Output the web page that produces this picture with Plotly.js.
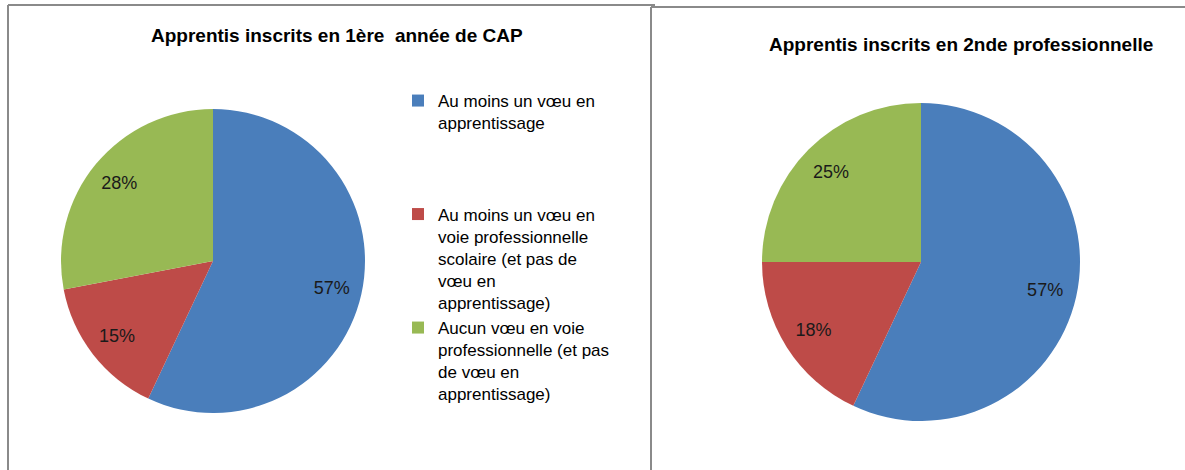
<!DOCTYPE html>
<html>
<head>
<meta charset="utf-8">
<script src="https://cdn.plot.ly/plotly-3.0.1.min.js"></script>
<style>html,body{margin:0;padding:0;background:#fff;}#chart{width:1185px;height:470px;}</style>
</head>
<body>
<div id="chart"></div>
<script>
// ---- data ----
var categories = [
  "Au moins un vœu en<br>apprentissage",
  "Au moins un vœu en<br>voie professionnelle<br>scolaire (et pas de<br>vœu en<br>apprentissage)",
  "Aucun vœu en voie<br>professionnelle (et pas<br>de vœu en<br>apprentissage)"
];
var valuesCAP = [57, 15, 28];
var values2nde = [57, 18, 25];
var titles = ["Apprentis inscrits en 1ère  année de CAP", "Apprentis inscrits en 2nde professionnelle"];
var colors = ["#4A7EBB", "#BE4B48", "#98B954"];

// legend spacing padding (blank lines appended, per item)
var pad = [3, 0, 0];
var labels = categories.map(function (c, i) {
  var s = c;
  for (var k = 0; k < pad[i]; k++) s += "<br> ";
  return s;
});

var W = 1185, H = 470;
function px(x) { return x / W; }
function py(y) { return 1 - y / H; }

var font = "Liberation Sans, Arial, sans-serif";

var dom1 = { x: [px(60), px(366)], y: [py(413), py(109)] };
var dom2 = { x: [px(762), px(1080)], y: [py(421), py(103)] };

function pieTrace(vals, dom, legend) {
  return {
    type: "pie", labels: labels, values: vals, domain: dom,
    sort: false, direction: "clockwise", rotation: 0,
    marker: { colors: colors, line: { width: 0 } },
    textinfo: "none", hoverinfo: "label+percent",
    showlegend: legend
  };
}
// transparent ring overlay that carries the percentage labels near the rim
function labelTrace(vals, dom) {
  return {
    type: "pie", labels: labels, values: vals, domain: dom,
    sort: false, direction: "clockwise", rotation: 0, hole: 0.6,
    marker: { colors: ["rgba(0,0,0,0)", "rgba(0,0,0,0)", "rgba(0,0,0,0)"], line: { width: 0 } },
    textinfo: "percent", textposition: "inside",
    insidetextorientation: "horizontal",
    textfont: { family: font, size: 18, color: "#1a1a1a" },
    hoverinfo: "skip", showlegend: false
  };
}

function line(x0, y0, x1, y1) {
  return { type: "line", xref: "paper", yref: "paper",
    x0: px(x0), y0: py(y0), x1: px(x1), y1: py(y1),
    line: { color: "#8a8a8a", width: 2 } };
}

var layout = {
  width: W, height: H,
  margin: { l: 0, r: 0, t: 0, b: 0 },
  paper_bgcolor: "#ffffff",
  font: { family: font, color: "#000" },
  showlegend: true,
  legend: {
    x: px(398), y: py(83), xanchor: "left", yanchor: "top",
    font: { family: font, size: 17, color: "#000" },
    valign: "top", itemwidth: 30, bgcolor: "rgba(0,0,0,0)",
    traceorder: "normal"
  },
  annotations: [
    { text: "<b>" + titles[0] + "</b>", xref: "paper", yref: "paper",
      x: px(337), y: py(35), xanchor: "center", yanchor: "middle", showarrow: false,
      font: { family: font, size: 19, color: "#000" } },
    { text: "<b>" + titles[1] + "</b>", xref: "paper", yref: "paper",
      x: px(961), y: py(45), xanchor: "center", yanchor: "middle", showarrow: false,
      font: { family: font, size: 19, color: "#000" } }
  ],
  shapes: [
    line(8, 5, 655, 5),
    line(8, 5, 8, 470),
    line(651, 7, 1185, 7),
    line(651, 7, 651, 470)
  ]
};

Plotly.newPlot("chart", [
  pieTrace(valuesCAP, dom1, true), labelTrace(valuesCAP, dom1),
  pieTrace(values2nde, dom2, false), labelTrace(values2nde, dom2)
], layout, { displayModeBar: false, staticPlot: true });
</script>
</body>
</html>
